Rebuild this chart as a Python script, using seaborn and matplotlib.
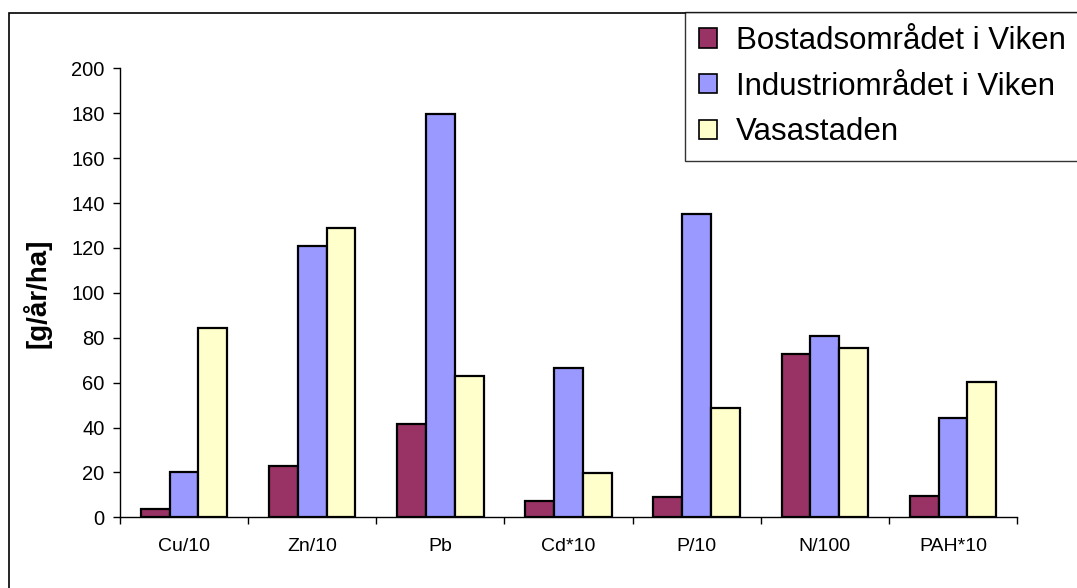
import pandas as pd
import matplotlib
matplotlib.use("Agg")
import matplotlib.pyplot as plt
import matplotlib.patches as mpatches
import seaborn as sns

# values
categories = ["Cu/10", "Zn/10", "Pb", "Cd*10", "P/10", "N/100", "PAH*10"]
areas = ["Bostadsområdet i Viken", "Industriområdet i Viken", "Vasastaden"]
bostad = [3.6, 23.0, 41.7, 7.1, 8.9, 72.7, 9.6]
industri = [20.3, 121.0, 179.5, 66.5, 135.2, 80.8, 44.4]
vasa = [84.3, 129.0, 63.0, 19.6, 48.8, 75.4, 60.3]
colors = ["#993366", "#9999FF", "#FFFFCC"]

df = pd.DataFrame({
    "Parameter": categories * 3,
    "Value": bostad + industri + vasa,
    "Area": [areas[0]] * 7 + [areas[1]] * 7 + [areas[2]] * 7,
})

sns.set_style("white")
plt.rcParams["font.family"] = ["Liberation Sans", "DejaVu Sans"]
plt.rcParams["text.color"] = "black"
plt.rcParams["axes.labelcolor"] = "black"
plt.rcParams["xtick.color"] = "black"
plt.rcParams["ytick.color"] = "black"

fig = plt.figure(figsize=(10.77, 5.88), dpi=100)
ax = fig.add_axes([0.1114, 0.1202, 0.8329, 0.7636])

sns.barplot(data=df, x="Parameter", y="Value", hue="Area", palette=colors,
            width=0.675, saturation=1, edgecolor="black", linewidth=1.6,
            errorbar=None, ax=ax)

ax.set_ylim(0, 200)
ax.set_xlim(-0.5, len(categories) - 0.5)
ax.set_yticks(range(0, 201, 20))
ax.tick_params(axis="y", which="major", direction="out", length=5, width=1,
               colors="black", labelsize=14.5, pad=6, left=True)
ax.tick_params(axis="x", which="major", length=0, labelsize=14, pad=15,
               colors="black")
ax.set_xticks([i - 0.5 for i in range(len(categories) + 1)], minor=True)
ax.tick_params(axis="x", which="minor", direction="out", length=5, width=1,
               color="black", bottom=True)

for s in ["top", "right"]:
    ax.spines[s].set_visible(False)
for s in ["left", "bottom"]:
    ax.spines[s].set_color("black")
    ax.spines[s].set_linewidth(1)

ax.set_xlabel("")
ax.set_ylabel("[g/år/ha]", fontsize=20, fontweight="bold", labelpad=14)

handles = [mpatches.Patch(facecolor=c, edgecolor="black", linewidth=1.2) for c in colors]
ax.get_legend().remove()
leg = fig.legend(handles, areas, loc="upper left",
                 bbox_to_anchor=(685 / 1077, 1 - 12 / 588),
                 bbox_transform=fig.transFigure, borderaxespad=0,
                 fontsize=22.5, frameon=True, fancybox=False, shadow=False,
                 handlelength=0.58, handleheight=0.58, handletextpad=0.6,
                 labelspacing=0.5, borderpad=0.45)
leg.get_frame().set_edgecolor("black")
leg.get_frame().set_linewidth(1)

# outer chart area border
fig.patches.append(mpatches.Rectangle((9 / 1077, -0.05), 1.1, 1 - 13 / 588 + 0.05,
                                      transform=fig.transFigure, fill=False,
                                      edgecolor="black", linewidth=1.2))

fig.savefig("out.png", dpi=100)
